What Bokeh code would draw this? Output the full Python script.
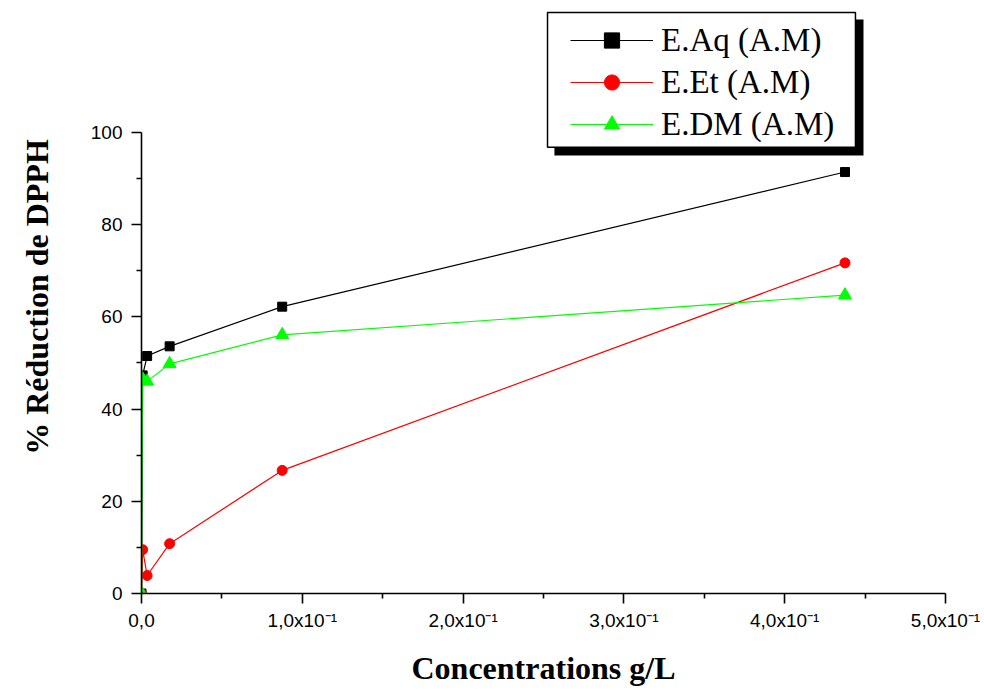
from bokeh.plotting import figure
from bokeh.models import Range1d, FixedTicker, Legend, LegendItem, BoxAnnotation
from bokeh.embed import file_html
from bokeh.resources import INLINE

# ---- data ----
concentrations = [0.0, 0.0007, 0.0035, 0.0175, 0.0875, 0.4375]
e_aq = [0.0, 47.3, 51.5, 53.6, 62.2, 91.4]
e_et = [0.0, 9.5, 3.9, 10.8, 26.7, 71.7]
e_dm = [0.0, 46.5, 46.0, 49.8, 56.1, 64.7]

series_names = ["E.Aq (A.M)", "E.Et (A.M)", "E.DM (A.M)"]

x_ticks = [0.0, 0.1, 0.2, 0.3, 0.4, 0.5]
x_tick_labels = ["0,0", "1,0x10\u207b\u00b9", "2,0x10\u207b\u00b9", "3,0x10\u207b\u00b9",
                 "4,0x10\u207b\u00b9", "5,0x10\u207b\u00b9"]
x_minor = [0.05, 0.15, 0.25, 0.35, 0.45]
y_ticks = [0, 20, 40, 60, 80, 100]
y_minor = [10, 30, 50, 70, 90]

p = figure(width=984, height=690, output_backend="svg", toolbar_location=None,
           x_range=Range1d(0.0, 0.5), y_range=Range1d(0.0, 128.6),
           min_border_left=141, min_border_right=39, min_border_top=0,
           min_border_bottom=97)
p.outline_line_color = None
p.xgrid.visible = False
p.ygrid.visible = False
p.background_fill_color = "white"
p.border_fill_color = "white"

# axes
p.xaxis.ticker = FixedTicker(ticks=x_ticks, minor_ticks=x_minor)
p.xaxis.major_label_overrides = dict(zip(x_ticks, x_tick_labels))
p.yaxis.ticker = FixedTicker(ticks=y_ticks, minor_ticks=y_minor)
p.yaxis.bounds = (0, 100)
for ax in (p.xaxis[0], p.yaxis[0]):
    ax.axis_line_width = 1.6
    ax.axis_line_color = "black"
    ax.major_tick_line_width = 1.6
    ax.minor_tick_line_width = 1.6
    ax.major_tick_line_color = "black"
    ax.minor_tick_line_color = "black"
    ax.major_tick_out = 10
    ax.major_tick_in = 0
    ax.minor_tick_out = 5
    ax.minor_tick_in = 0
    ax.major_label_text_font = "Liberation Sans"
    ax.major_label_text_font_size = "19px"
    ax.major_label_text_color = "black"
    ax.axis_label_text_font = "Liberation Serif"
    ax.axis_label_text_font_style = "bold"
    ax.axis_label_text_font_size = "32px"
    ax.axis_label_text_color = "black"
p.xaxis.axis_label = "Concentrations g/L"
p.yaxis.axis_label = "% R\u00e9duction de DPPH"
p.xaxis.major_label_standoff = 6
p.yaxis.major_label_standoff = 9
p.xaxis.axis_label_standoff = 16
p.yaxis.axis_label_standoff = 33

# series
colors = ["black", "#ff0000", "#00ff00"]
markers = ["square", "circle", "triangle"]
sizes = [9, 10, 13]
values = [e_aq, e_et, e_dm]
items = []
for name, col, mk, sz, ys in zip(series_names, colors, markers, sizes, values):
    ln = p.line(concentrations, ys, line_color=col, line_width=1.2)
    sc = p.scatter(concentrations, ys, marker=mk, size=sz, fill_color=col,
                   line_color=col)
    items.append(LegendItem(label=name, renderers=[ln, sc]))

# legend frame with drop shadow
shadow = BoxAnnotation(left=0.2568, right=0.449, top=124.5, bottom=95.0,
                       fill_color="black", fill_alpha=1.0, line_color=None)
box = BoxAnnotation(left=0.2525, right=0.444, top=126.0, bottom=96.75,
                    fill_color="white", fill_alpha=1.0, line_color="black",
                    line_width=1.5, line_alpha=1.0)
p.add_layout(shadow)
p.add_layout(box)

legend = Legend(items=items, location=(429, 450), padding=0, margin=0, spacing=4,
                glyph_width=83, glyph_height=38, label_height=38, label_standoff=8,
                label_text_font="Liberation Serif", label_text_font_size="33px",
                label_text_color="black",
                border_line_alpha=0, background_fill_alpha=0)
p.add_layout(legend)

open("out.html", "w").write(file_html(p, INLINE))
